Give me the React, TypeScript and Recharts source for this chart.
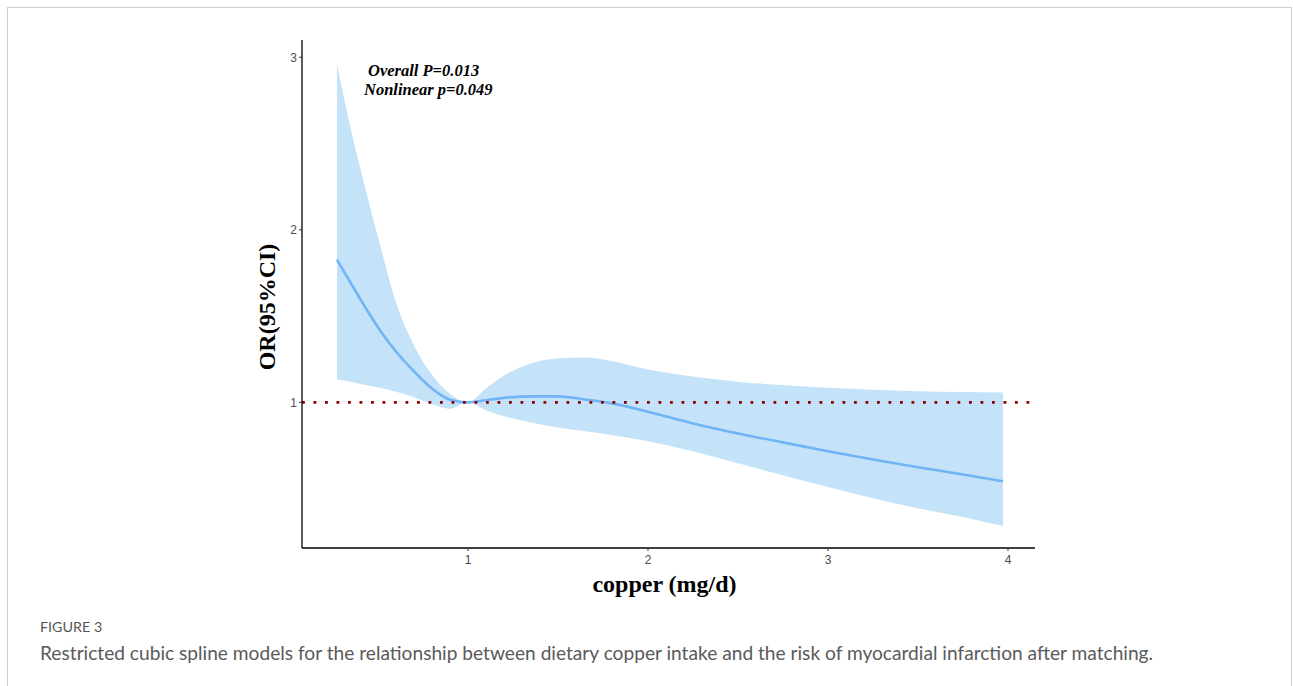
import {
  ComposedChart,
  Area,
  Line,
  XAxis,
  YAxis,
  ReferenceLine,
  Label,
} from "recharts";

// copper intake (mg/d)
const copper = [
  0.272, 0.35, 0.43, 0.51, 0.6, 0.7, 0.8, 0.9, 1.0, 1.1, 1.2, 1.35, 1.5, 1.65,
  1.8, 2.0, 2.25, 2.5, 2.75, 3.0, 3.25, 3.5, 3.75, 3.972,
];
// OR estimate
const orEst = [
  1.827, 1.69, 1.55, 1.42, 1.295, 1.18, 1.08, 1.015, 1.0, 1.012, 1.026, 1.035,
  1.035, 1.017, 0.994, 0.945, 0.878, 0.82, 0.768, 0.717, 0.669, 0.624, 0.582,
  0.543,
];
// 95% CI lower / upper
const ciLow = [
  1.133, 1.12, 1.1, 1.085, 1.062, 1.03, 0.99, 0.962, 1.0, 0.954, 0.92, 0.884,
  0.855, 0.832, 0.81, 0.775, 0.717, 0.647, 0.578, 0.509, 0.445, 0.387, 0.335,
  0.283,
];
const ciHigh = [
  2.96, 2.58, 2.24, 1.92, 1.58, 1.33, 1.16, 1.05, 1.0, 1.08, 1.155, 1.225,
  1.255, 1.26, 1.24, 1.19, 1.15, 1.12, 1.1, 1.085, 1.073, 1.065, 1.06, 1.057,
];
const xTicks = [1, 2, 3, 4];
const yTicks = [1, 2, 3];

const data = copper.map((x, i) => ({
  x,
  or: orEst[i],
  ci: [ciLow[i], ciHigh[i]],
}));

const tickStyle = { fill: "#4d4d4d", fontSize: 12, fontFamily: "Liberation Sans, Arial, sans-serif" };

export default function App() {
  return (
    <div style={{ position: "absolute", left: 0, top: 0, width: 1293, height: 686, background: "#fff" }}>
      {/* frame */}
      <div
        style={{
          position: "absolute",
          left: 7,
          top: 7,
          width: 1285,
          height: 700,
          borderTop: "1.5px solid #cfcfcf",
          borderLeft: "1.5px solid #cfcfcf",
          borderRight: "1.5px solid #cfcfcf",
          boxSizing: "border-box",
        }}
      />
      <div style={{ position: "absolute", left: 0, top: 0 }}>
        <ComposedChart
          width={1293}
          height={686}
          data={data}
          margin={{ top: 40, right: 258, bottom: 108, left: 262 }}
          style={{ fontFamily: "Liberation Serif, serif" }}
        >
          <XAxis
            dataKey="x"
            type="number"
            domain={[0.078, 4.15]}
            ticks={xTicks}
            allowDataOverflow
            height={30}
            axisLine={{ stroke: "#000", strokeWidth: 1.3 }}
            tickLine={{ stroke: "#333" }}
            tickSize={3}
            tickMargin={4}
            tick={tickStyle}
          >
            <Label
              content={({ viewBox }: any) => (
                <text
                  x={viewBox.x + viewBox.width / 2 - 4}
                  y={592}
                  textAnchor="middle"
                  fontFamily="Liberation Serif, serif"
                  fontWeight="bold"
                  fontSize={24}
                  fill="#000"
                >
                  copper (mg/d)
                </text>
              )}
            />
          </XAxis>
          <YAxis
            type="number"
            domain={[0.156, 3.1]}
            ticks={yTicks}
            allowDataOverflow
            width={40}
            axisLine={{ stroke: "#000", strokeWidth: 1.3 }}
            tickLine={{ stroke: "#333" }}
            tickSize={3}
            tick={tickStyle}
          >
            <Label
              content={() => (
                <text
                  x={275}
                  y={307}
                  transform="rotate(-90 275 307)"
                  textAnchor="middle"
                  fontFamily="Liberation Serif, serif"
                  fontWeight="bold"
                  fontSize={24}
                  fill="#000"
                >
                  OR(95%CI)
                </text>
              )}
            />
          </YAxis>
          <Area
            type="monotone"
            dataKey="ci"
            stroke="none"
            fill="#c4e3f9"
            fillOpacity={1}
            isAnimationActive={false}
          />
          <Line
            type="monotone"
            dataKey="or"
            stroke="#70b4f6"
            strokeWidth={2.6}
            dot={false}
            isAnimationActive={false}
          />
          <ReferenceLine y={1} stroke="#8b0000" strokeWidth={2.8} strokeDasharray="2.8 8.7" />
        </ComposedChart>
      </div>
      {/* annotation */}
      <div
        style={{
          position: "absolute",
          left: 368,
          top: 61,
          fontFamily: "Liberation Serif, serif",
          fontWeight: "bold",
          fontStyle: "italic",
          fontSize: 16.5,
          lineHeight: "19px",
          color: "#000",
          whiteSpace: "nowrap",
        }}
      >
        Overall P=0.013
      </div>
      <div
        style={{
          position: "absolute",
          left: 364,
          top: 80,
          fontFamily: "Liberation Serif, serif",
          fontWeight: "bold",
          fontStyle: "italic",
          fontSize: 16.5,
          lineHeight: "19px",
          color: "#000",
          whiteSpace: "nowrap",
        }}
      >
        Nonlinear p=0.049
      </div>
      {/* caption */}
      <div
        style={{
          position: "absolute",
          left: 40,
          top: 618,
          fontFamily: "Lato, sans-serif",
          fontSize: 14.3,
          color: "#555",
        }}
      >
        FIGURE 3
      </div>
      <div
        style={{
          position: "absolute",
          left: 40,
          top: 641,
          fontFamily: "Lato, sans-serif",
          fontSize: 19.15,
          color: "#5a5a5a",
          whiteSpace: "nowrap",
        }}
      >
        Restricted cubic spline models for the relationship between dietary copper intake and the risk of myocardial
        infarction after matching.
      </div>
    </div>
  );
}
